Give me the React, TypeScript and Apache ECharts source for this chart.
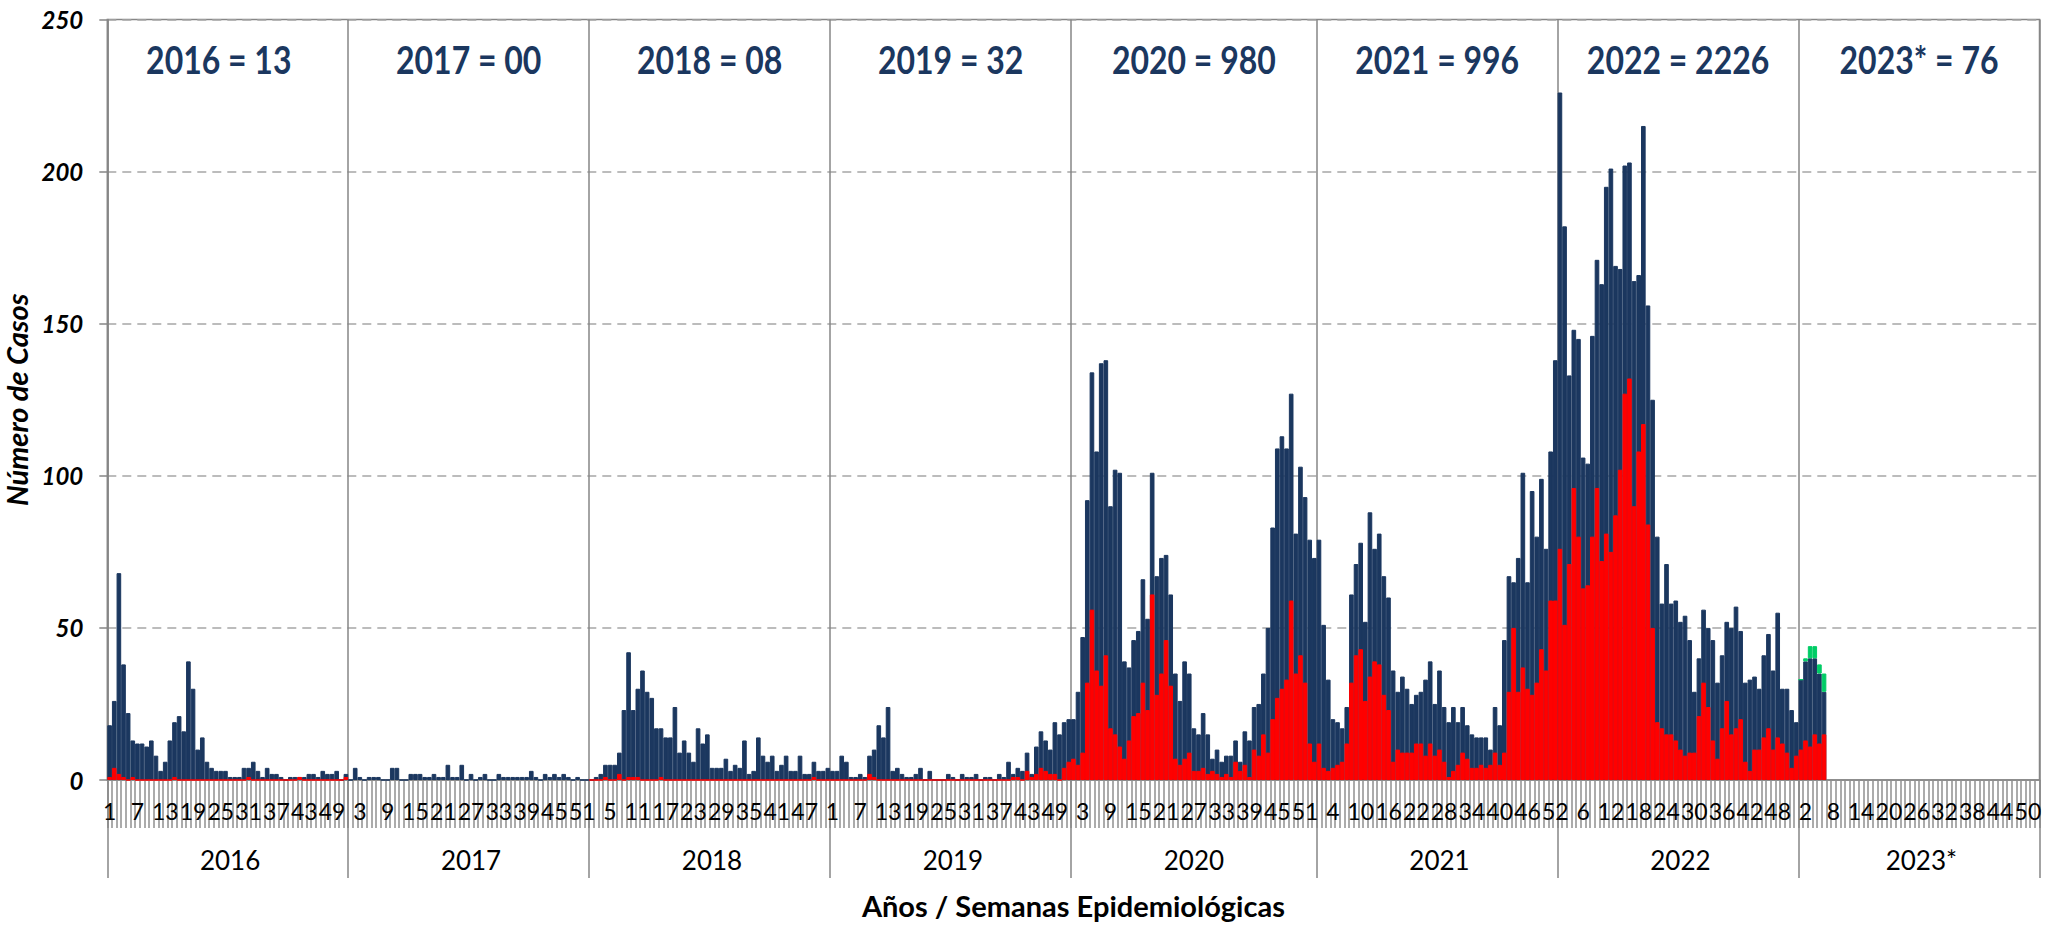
import React, { useEffect, useRef } from 'react';
import * as echarts from 'echarts';

// ---------- data ----------
const YEARS = ['2016', '2017', '2018', '2019', '2020', '2021', '2022', '2023*'];
const WEEKS_PER_YEAR = [52, 52, 52, 52, 53, 52, 52, 52];
const YEAR_TITLES = ['2016 = 13', '2017 = 00', '2018 = 08', '2019 = 32', '2020 = 980', '2021 = 996', '2022 = 2226', '2023* = 76'];
const Y_MIN = 0;
const Y_MAX = 250;
const Y_STEP = 50;

// total weekly cases (navy)
const TOTAL_2016 = [18,26,68,38,22,13,12,12,11,13,8,3,6,13,19,21,16,39,30,10,14,6,4,3,3,3,1,1,1,4,4,6,3,1,4,2,2,1,0,1,1,1,1,2,2,1,3,2,2,3,0,2];
const TOTAL_2017 = [0,4,1,0,1,1,1,0,0,4,4,0,0,2,2,2,1,1,2,1,1,5,1,1,5,0,2,0,1,2,0,0,2,1,1,1,1,1,1,3,1,0,2,1,2,1,2,1,0,1,0,0];
const TOTAL_2018 = [0,1,2,5,5,5,9,23,42,23,30,36,29,27,17,17,14,14,24,9,13,9,6,17,12,15,4,4,4,7,3,5,4,13,2,3,14,8,6,8,3,5,8,3,3,8,2,2,6,3,3,4];
const TOTAL_2019 = [3,3,8,6,1,1,2,1,8,10,18,14,24,3,4,2,1,1,2,4,0,3,0,0,0,2,1,0,2,1,1,2,0,1,1,0,2,1,6,2,4,3,9,2,11,16,13,10,19,15,19,20];
const TOTAL_2020 = [20,29,47,92,134,108,137,138,90,102,101,39,37,46,49,66,53,101,67,73,74,61,35,26,39,35,17,15,22,15,7,10,6,8,8,13,6,16,13,24,25,35,50,83,109,113,109,127,81,103,93,79,73];
const TOTAL_2021 = [79,51,33,20,19,17,24,61,71,78,52,88,76,81,67,60,36,29,34,30,25,28,29,33,39,25,36,24,19,24,19,24,18,15,14,14,14,10,24,18,46,67,65,73,101,65,95,80,99,76,108,138];
const TOTAL_2022 = [226,182,133,148,145,106,104,146,171,163,195,201,169,168,202,203,164,166,215,156,125,80,58,71,58,59,52,54,46,29,40,56,50,46,32,41,52,50,57,49,32,33,34,30,41,48,36,55,30,30,23,19];
const TOTAL_2023 = [33,39,40,40,35,29];

// confirmed weekly cases (red)
const RED_2016 = [1,4,2,1,0,1,0,0,0,0,0,0,0,0,1,0,0,0,0,0,0,0,0,0,0,0,0,0,0,0,1,0,0,0,0,0,0,0,0,0,0,1,0,0,0,0,0,0,0,0,0,1];
const RED_2017: number[] = [];
const RED_2018 = [0,0,0,1,0,0,2,0,1,1,1,0,0,0,0,1,0,0,0,0,0,0,0,0,0,0,0,0,0,0,0,0,0,0,0,0,0,0,0,0,0,0,0,0,0,0,0,0,1,0,0,0];
const RED_2019 = [0,0,0,0,0,0,0,0,2,1,0,0,0,0,0,0,0,0,0,0,0,0,0,0,0,0,0,0,0,0,0,0,0,0,0,0,0,0,0,1,1,0,3,1,2,4,3,2,2,0,4,6];
const RED_2020 = [7,5,9,32,56,36,31,41,17,15,11,7,13,21,22,32,23,61,28,35,46,31,7,5,7,9,3,3,4,2,3,2,1,2,1,6,3,5,1,10,8,15,9,20,27,30,33,59,35,41,32,12,6];
const RED_2021 = [12,4,3,4,5,6,12,32,41,43,26,34,39,38,28,23,6,10,9,9,9,12,12,8,12,8,10,6,1,3,5,9,7,4,4,5,4,5,9,5,9,29,50,29,37,30,28,32,43,36,59,59];
const RED_2022 = [76,51,71,96,80,63,64,80,96,72,81,75,87,102,127,132,90,108,117,84,50,19,17,15,15,13,10,8,9,9,21,32,24,13,7,17,26,15,17,20,6,3,10,10,14,17,10,14,12,9,4,8];
const RED_2023 = [10,13,11,15,12,15];

// additional 2023 cases (green, stacked on top)
const GREEN_2023 = [0,1,4,4,3,6];

const TOTAL_BY_YEAR = [TOTAL_2016, TOTAL_2017, TOTAL_2018, TOTAL_2019, TOTAL_2020, TOTAL_2021, TOTAL_2022, TOTAL_2023];
const RED_BY_YEAR = [RED_2016, RED_2017, RED_2018, RED_2019, RED_2020, RED_2021, RED_2022, RED_2023];
const GREEN_BY_YEAR: number[][] = [[], [], [], [], [], [], [], GREEN_2023];

// ---------- styles / layout ----------
const NAVY = '#1b375f';
const RED = '#ff0000';
const GREEN = '#00cc66';
const AXIS_GRAY = '#868686';
const FONT = 'Lato, "Noto Sans", sans-serif';

const W = 2058;
const H = 929;
const GRID_L = 107.3;
const GRID_RX = 2039.5;
const GRID_T = 19.5;
const GRID_BY = 780;

const pad = (arr: number[], n: number) =>
  Array.from({ length: n }, (_, i) => (i < arr.length ? arr[i] : null));

export default function App() {
  const ref = useRef<HTMLDivElement>(null);

  useEffect(() => {
    if (!ref.current) return;
    const chart = echarts.init(ref.current, undefined, { renderer: 'svg' });

    const categories: string[] = [];
    const total: (number | null)[] = [];
    const red: (number | null)[] = [];
    const green: (number | null)[] = [];
    const yearStarts: number[] = [];
    const yearMids: number[] = [];
    let idx = 0;
    YEARS.forEach((y, j) => {
      const n = WEEKS_PER_YEAR[j];
      yearStarts.push(idx);
      yearMids.push(idx + Math.floor(n / 2));
      for (let w = 1; w <= n; w++) categories.push(`${y}|${w}`);
      total.push(...pad(TOTAL_BY_YEAR[j], n));
      red.push(...pad(RED_BY_YEAR[j], n));
      green.push(...pad(GREEN_BY_YEAR[j], n));
      idx += n;
    });
    const nCat = categories.length;
    const catW = (GRID_RX - GRID_L) / nCat;

    const titles = YEAR_TITLES.map((t, j) => ({
      type: 'text',
      x: GRID_L + (yearStarts[j] + WEEKS_PER_YEAR[j] / 2) * catW - (j === 0 ? 9 : 0),
      y: 59,
      scaleY: 1.2,
      z: 100,
      style: {
        text: t,
        fill: NAVY,
        font: `bold 32px ${FONT}`,
        textAlign: 'center',
        textVerticalAlign: 'middle',
        align: 'center',
        verticalAlign: 'middle',
      },
    }));

    const option: any = {
      animation: false,
      backgroundColor: '#ffffff',
      grid: {
        left: GRID_L,
        right: W - GRID_RX,
        top: GRID_T,
        bottom: H - GRID_BY,
        show: true,
        borderColor: AXIS_GRAY,
        borderWidth: 1.5,
        containLabel: false,
        outerBoundsMode: 'none',
      },
      xAxis: [
        {
          type: 'category',
          data: categories,
          position: 'bottom',
          boundaryGap: true,
          axisLine: { show: true, lineStyle: { color: AXIS_GRAY, width: 1.5 } },
          axisTick: { show: true, interval: 0, length: 48, lineStyle: { color: '#8f8f8f', width: 1.5 } },
          axisLabel: {
            interval: 5,
            formatter: (v: string) => v.split('|')[1],
            fontSize: 23,
            fontFamily: FONT,
            color: '#000',
            margin: 19,
          },
          splitLine: { show: false },
        },
        {
          type: 'category',
          data: categories,
          position: 'bottom',
          boundaryGap: true,
          axisLine: { show: false },
          axisTick: {
            show: true,
            interval: (i: number) => yearStarts.includes(i),
            length: 98,
            lineStyle: { color: AXIS_GRAY, width: 1.5 },
          },
          axisLabel: {
            interval: (i: number) => yearMids.includes(i),
            formatter: (v: string) => v.split('|')[0],
            fontSize: 26,
            fontFamily: FONT,
            color: '#000',
            margin: 67,
          },
          splitLine: {
            show: true,
            interval: (i: number) => yearStarts.includes(i),
            lineStyle: { color: AXIS_GRAY, width: 1.5 },
          },
          name: 'Años / Semanas Epidemiológicas',
          nameLocation: 'middle',
          nameGap: 111,
          nameTextStyle: { fontSize: 29, fontWeight: 'bold', fontFamily: FONT, color: '#000' },
        },
      ],
      yAxis: {
        type: 'value',
        min: Y_MIN,
        max: Y_MAX,
        interval: Y_STEP,
        axisLine: { show: true, lineStyle: { color: AXIS_GRAY, width: 1.5 } },
        axisTick: { show: true, length: 8, lineStyle: { color: AXIS_GRAY, width: 1.5 } },
        axisLabel: {
          fontSize: 24,
          fontWeight: 'bold',
          fontStyle: 'italic',
          fontFamily: FONT,
          color: '#000',
          margin: 24,
        },
        splitLine: { show: true, lineStyle: { color: '#a6a6a6', width: 1.5, type: [9, 6] } },
        name: 'Número de Casos',
        nameLocation: 'middle',
        nameRotate: 90,
        nameGap: 68,
        nameTextStyle: { fontSize: 29, fontWeight: 'bold', fontStyle: 'italic', fontFamily: FONT, color: '#000' },
      },
      series: [
        {
          name: 'Casos',
          type: 'bar',
          stack: 'total',
          data: total,
          barCategoryGap: '0%',
          barGap: '-100%',
          itemStyle: { color: NAVY, borderColor: NAVY, borderWidth: 1 },
          z: 2,
        },
        {
          name: 'Adicional',
          type: 'bar',
          stack: 'total',
          data: green,
          barCategoryGap: '0%',
          barGap: '-100%',
          itemStyle: { color: GREEN, borderColor: GREEN, borderWidth: 1 },
          z: 2,
        },
        {
          name: 'Confirmados',
          type: 'bar',
          data: red,
          barCategoryGap: '0%',
          barGap: '-100%',
          itemStyle: { color: RED, borderColor: RED, borderWidth: 1 },
          z: 3,
        },
      ],
      graphic: titles,
    };

    chart.setOption(option);
    return () => chart.dispose();
  }, []);

  return (
    <div
      ref={ref}
      style={{ position: 'fixed', left: 0, top: 0, width: W, height: H, background: '#fff' }}
    />
  );
}
